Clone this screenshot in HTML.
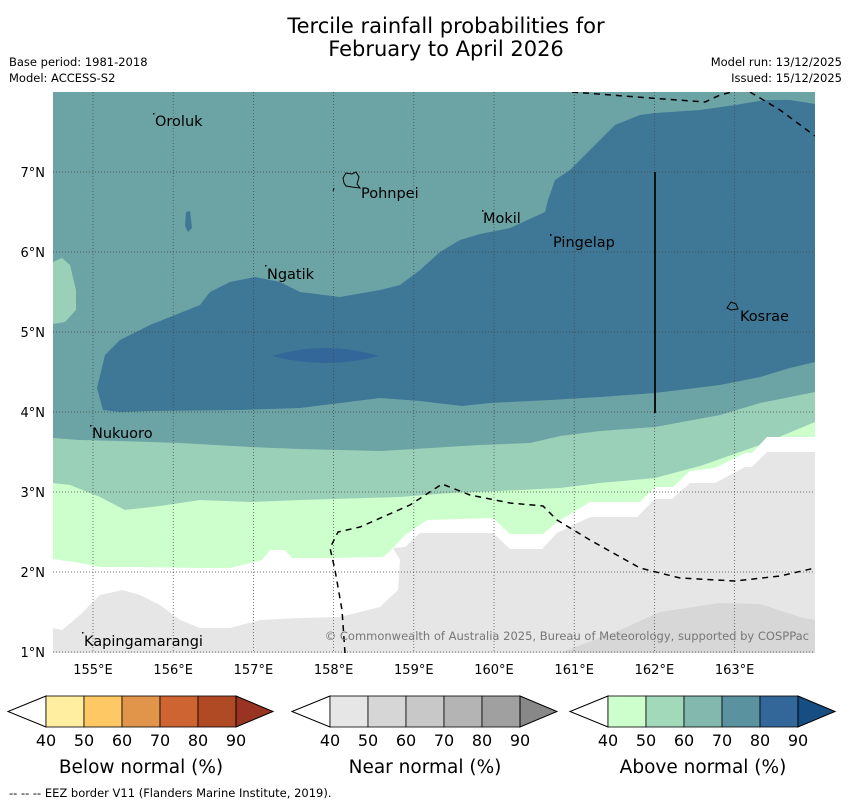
<!DOCTYPE html>
<html><head><meta charset="utf-8">
<style>
body{margin:0;background:#fff;width:850px;height:804px;overflow:hidden;font-family:"DejaVu Sans","Liberation Sans",sans-serif;}
svg{display:block}
</style></head>
<body>
<svg id="chart" width="850" height="804" viewBox="0 0 850 804">
<text x="446" y="33" font-size="21" text-anchor="middle">Tercile rainfall probabilities for</text>
<text x="446" y="56" font-size="21" text-anchor="middle">February to April 2026</text>
<text x="9" y="66" font-size="11.5">Base period: 1981-2018</text>
<text x="9" y="82" font-size="11.5">Model: ACCESS-S2</text>
<text x="842" y="66" font-size="11.5" text-anchor="end">Model run: 13/12/2025</text>
<text x="842" y="82" font-size="11.5" text-anchor="end">Issued: 15/12/2025</text>

<defs><clipPath id="mapclip"><rect x="53" y="92" width="762" height="561"/></clipPath></defs>
<g clip-path="url(#mapclip)">
<rect x="53" y="92" width="762" height="561" fill="#6ca3a5"/>
<path d="M53,262 L62,258 L70,265 L76,290 L76,310 L65,322 L53,324 Z" fill="#9ad0b7"/>
<path d="M103,410 L97,388 L105,355 L120,340 L150,325 L200,305 L210,292 L230,282 L255,277 L280,282 L300,292 L340,297 L380,290 L400,285 L420,270 L440,252 L460,240 L480,234 L510,228 L545,212 L548,200 L555,180 L570,170 L590,150 L605,135 L615,125 L640,115 L655,113 L700,110 L735,105 L765,100 L790,100 L815,104 L815,362 L790,368 L760,377 L720,385 L655,393 L600,397 L550,400 L490,403 L462,406 L420,401 L380,398 L340,403 L300,408 L240,410 L150,411 L120,412 Z" fill="#3f7896"/>
<path d="M272,356 Q325,340 379,356 Q325,370 272,356 Z" fill="#336699"/>
<path d="M53,438 L80,440 L120,441 L180,443 L250,447 L300,449 L380,451 L430,448 L480,445 L530,443 L560,436 L600,431 L655,427 L720,415 L760,403 L815,392 L815,653 L53,653 Z" fill="#9ad0b7"/>
<path d="M53,483 L70,485 L100,497 L125,510 L160,506 L200,500 L250,502 L300,500 L400,497 L450,493 L500,491 L560,488 L600,483 L655,478 L700,466 L760,445 L815,422 L815,653 L53,653 Z" fill="#ccffcc"/>
<path d="M53,559 L80,563 L100,567 L140,567 L200,568 L230,568 L262,560 L270,550 L285,550 L292,558 L330,558 L383,557 L393,548 L405,535 L427,520 L493,518 L510,534 L543,534 L557,522 L590,502 L640,502 L655,487 L673,487 L690,471 L715,468 L745,453 L752,453 L767,437 L815,437 L815,653 L53,653 Z" fill="#ffffff"/>
<path d="M53,628 L62,630 L80,615 L100,595 L122,590 L140,595 L160,605 L180,620 L200,628 L230,628 L260,620 L300,618 L340,617 L380,607 L398,590 L400,560 L393,548 L405,547 L420,533 L493,533 L510,549 L542,549 L557,533 L590,517 L637,517 L655,499 L672,499 L690,483 L715,483 L745,467 L752,467 L767,452 L815,452 L815,653 L53,653 Z" fill="#e6e6e6"/>
<path d="M560,653 L620,630 L660,612 L720,603 L760,604 L800,617 L815,620 L815,653 Z" fill="#d7d7d7"/>
<path d="M186,212 L190,211 L192,228 L188,232 L185,226 Z" fill="#3f7896"/>
<g id="grid"></g>
<g fill="none" stroke="#000" stroke-width="1.5" stroke-dasharray="6,5">
<path d="M345,653 L342,610 L335,570 L330,548 L338,532 L360,527 L410,505 L442,484 L470,495 L510,503 L543,506 L557,520 L590,540 L640,568 L680,578 L735,581 L780,576 L815,568"/>
<path d="M572,92 L650,98 L705,102 L720,95 L740,90"/>
<path d="M750,92 L780,110 L815,136"/>
</g>
<line x1="655" y1="172" x2="655" y2="413" stroke="#111" stroke-width="2"/>
<path d="M343,178 L346,173 L352,174 L356,172 L359,177 L357,184 L360,188 L352,187 L346,186 L344,183 Z" fill="none" stroke="#000" stroke-width="1"/>
<path d="M334,188 L333,191" stroke="#000"/>
<path d="M727,308 L731,302 L736,304 L738,309 L731,310 Z" fill="none" stroke="#000" stroke-width="1"/>
<g fill="#000">
<rect x="153" y="113" width="1.5" height="1.5"/><rect x="482" y="210" width="1.5" height="1.5"/>
<rect x="550" y="234" width="1.5" height="2"/><rect x="265" y="265" width="1.5" height="1.5"/>
<rect x="90" y="425" width="1.5" height="1.5"/><rect x="82" y="632" width="1.5" height="1.5"/>
</g>
<g font-size="14.5" fill="#000">
<text x="155" y="126">Oroluk</text>
<text x="361" y="198">Pohnpei</text>
<text x="483" y="223">Mokil</text>
<text x="553" y="247">Pingelap</text>
<text x="267" y="279">Ngatik</text>
<text x="740" y="321">Kosrae</text>
<text x="92" y="438">Nukuoro</text>
<text x="84" y="646">Kapingamarangi</text>
</g>
<text x="809" y="640" font-size="11.5" fill="#777" text-anchor="end">© Commonwealth of Australia 2025, Bureau of Meteorology, supported by COSPPac</text>
</g>
<g id="axes" font-size="13"></g>
<g id="bars"></g>
<text x="9" y="797" font-size="11.5">--  --  -- EEZ border V11 (Flanders Marine Institute, 2019).</text>
</svg>
<script>
var lonTicks=[155,156,157,158,159,160,161,162,163];
var latTicks=[1,2,3,4,5,6,7];
var cbTicks=[40,50,60,70,80,90];
var cbTitles=["Below normal (%)","Near normal (%)","Above normal (%)"];
var cbColors=[["#ffeda0","#fec965","#e0954a","#cd6432","#b04a25","#993322"],["#e6e6e6","#d6d6d6","#c8c8c8","#b4b4b4","#a0a0a0","#888888"],["#ccffcc","#a2d9bb","#82b8ae","#5b92a0","#336699","#164e84"]];
var NS="http://www.w3.org/2000/svg";
function X(lon){return 93+(lon-155)*80.2;}
function Y(lat){return 652-(lat-1)*80;}
function mk(t,a,p){var e=document.createElementNS(NS,t);for(var k in a)e.setAttribute(k,a[k]);p.appendChild(e);return e;}
var grid=document.getElementById('grid'),axes=document.getElementById('axes');
lonTicks.forEach(function(v){
 var l=mk('line',{x1:X(v),x2:X(v),y1:92,y2:653,stroke:'#444','stroke-width':0.7,'stroke-dasharray':'1,2'},grid);
 
 
 var t=mk('text',{x:X(v),y:674,'text-anchor':'middle'},axes);t.textContent=v+'°E';
 
 
});
latTicks.forEach(function(v){
 var l=mk('line',{x1:53,x2:815,y1:Y(v),y2:Y(v),stroke:'#444','stroke-width':0.7,'stroke-dasharray':'1,2'},grid);
 
 
 var t=mk('text',{x:45,y:Y(v)+5,'text-anchor':'end'},axes);t.textContent=v+'°N';
 
 
});
var bars=document.getElementById('bars');
var starts=[46,330,608],segW=38,y0=696,y1=727;
cbColors.forEach(function(cols,i){
 var s=starts[i],g=mk('g',{},bars);
 
 
 var lt=mk('path',{d:'M'+s+','+y0+' L'+(s-38)+','+((y0+y1)/2)+' L'+s+','+y1+' Z',fill:'#fff',stroke:'#000','stroke-width':1},g);
 
 
 for(var j=0;j<5;j++){
  var r=mk('rect',{x:s+j*segW,y:y0,width:segW,height:y1-y0,fill:cols[j],stroke:'#000','stroke-width':0.8},g);
  
  
 }
 var e=s+5*segW;
 var rt=mk('path',{d:'M'+e+','+y0+' L'+(e+37)+','+((y0+y1)/2)+' L'+e+','+y1+' Z',fill:cols[5],stroke:'#000','stroke-width':1},g);
 
 
 cbTicks.forEach(function(v,k){
  var t=mk('text',{x:s+k*segW,y:746,'font-size':16,'text-anchor':'middle'},g);t.textContent=v;
  
  
 });
 var tt=mk('text',{x:s+2.5*segW,y:773,'font-size':18.5,'text-anchor':'middle'},g);tt.textContent=cbTitles[i];
 
 
});
</script>
</body></html>
